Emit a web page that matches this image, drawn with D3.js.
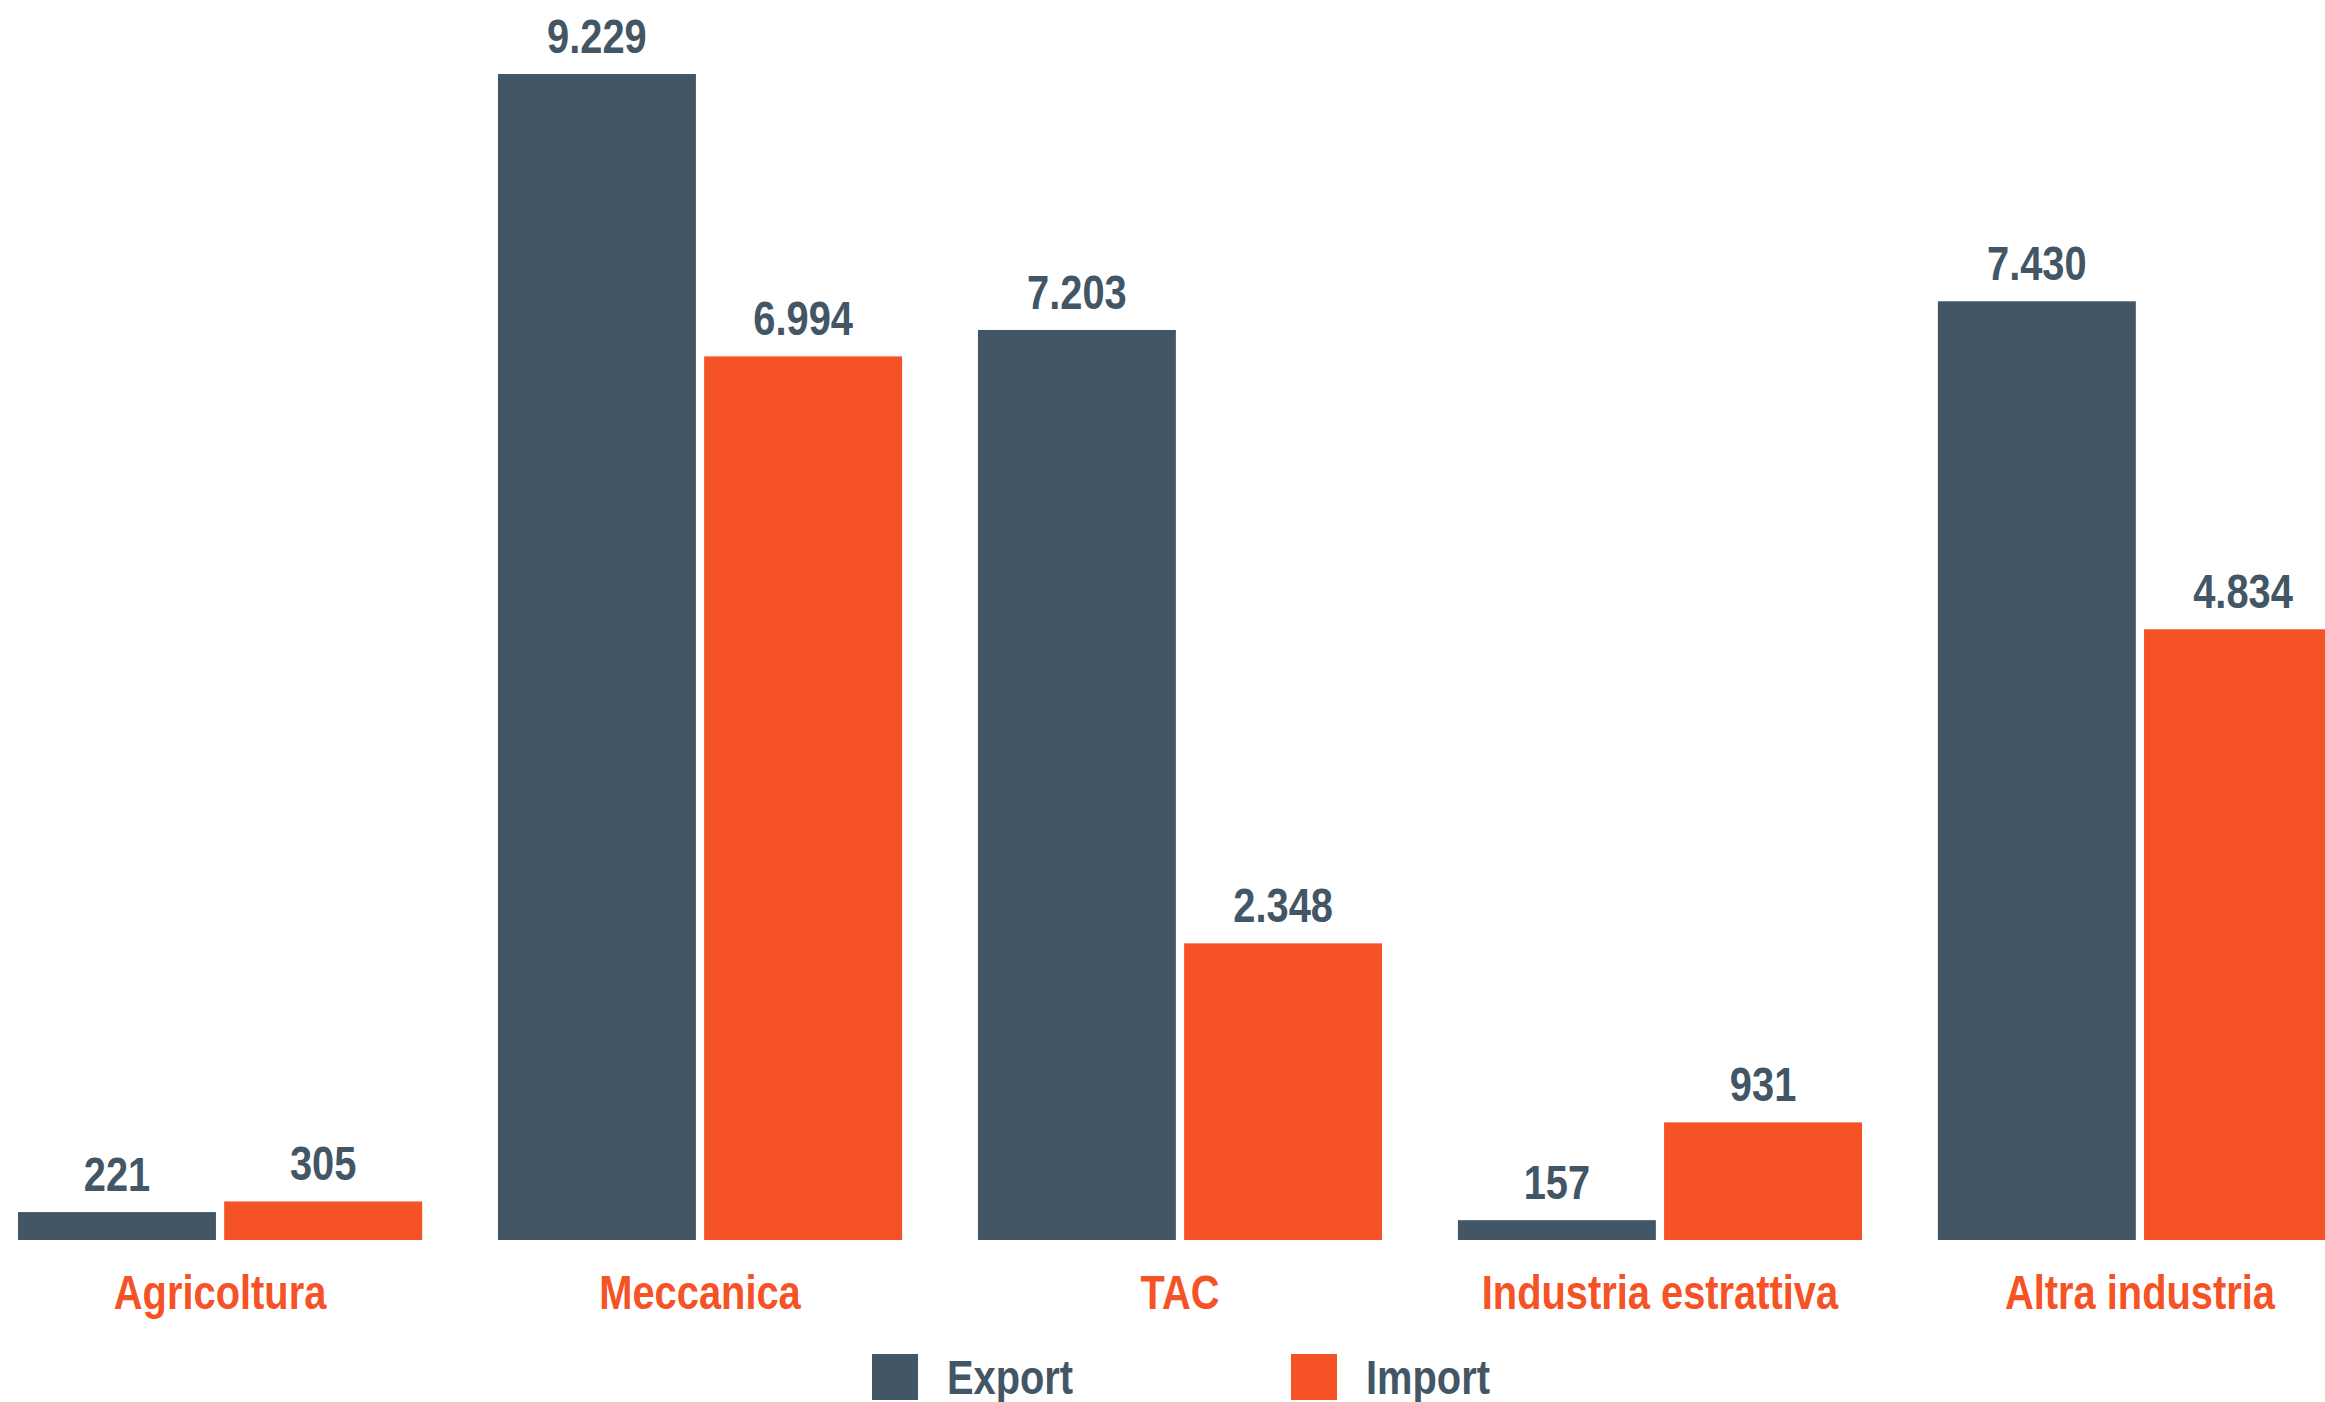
<!DOCTYPE html>
<html>
<head>
<meta charset="utf-8">
<script src="https://cdn.jsdelivr.net/npm/d3@7"></script>
<style>
  html, body { margin: 0; padding: 0; background: #ffffff; overflow: hidden; }
  svg { display: block; }
  text { font-family: "Liberation Sans", Arial, sans-serif; font-weight: bold; }
</style>
</head>
<body>
<svg id="chart" width="2325" height="1402"></svg>
<script>
const categories = ["Agricoltura", "Meccanica", "TAC", "Industria estrattiva", "Altra industria"];
const seriesNames = ["Export", "Import"];
const exportValues = [221, 9229, 7203, 157, 7430];
const importValues = [305, 6994, 2348, 931, 4834];
const seriesColors = ["#435665", "#f55225"];

const SX = 0.83; // horizontal condensing of the bold sans face
const svg = d3.select("#chart");

const data = categories.map((c, i) => ({
  category: c,
  values: [
    { series: "Export", value: exportValues[i] },
    { series: "Import", value: importValues[i] }
  ]
}));

const x0 = d3.scaleBand().domain(categories).range([18, 2342]).paddingInner(0.158).paddingOuter(0);
const x1 = d3.scaleBand().domain(seriesNames).range([0, x0.bandwidth()]).paddingInner(0.04).paddingOuter(0);
const y = d3.scaleLinear().domain([0, 9229]).range([1240, 74]);
const color = d3.scaleOrdinal().domain(seriesNames).range(seriesColors);

const fmt = d3.formatLocale({ decimal: ",", thousands: ".", grouping: [3], currency: ["€", ""] }).format(",d");

const groups = svg.append("g").selectAll("g")
  .data(data).join("g")
  .attr("transform", d => `translate(${x0(d.category)},0)`);

groups.selectAll("rect")
  .data(d => d.values).join("rect")
  .attr("x", d => x1(d.series))
  .attr("y", d => y(d.value))
  .attr("width", x1.bandwidth())
  .attr("height", d => y(0) - y(d.value))
  .attr("fill", d => color(d.series));

groups.selectAll("text.val")
  .data(d => d.values).join("text")
  .attr("class", "val")
  .attr("transform", d => `translate(${x1(d.series) + x1.bandwidth() / 2},${y(d.value) - 21}) scale(${SX},1)`)
  .attr("text-anchor", "middle")
  .attr("font-size", 48)
  .attr("fill", "#435665")
  .text(d => fmt(d.value));

// category axis labels
const xAxis = d3.axisBottom(x0).tickSize(0).tickPadding(0);
const axisG = svg.append("g").attr("transform", `translate(0,${y(0)})`).call(xAxis);
axisG.select(".domain").remove();
axisG.selectAll("text")
  .attr("dy", null)
  .attr("y", 0)
  .attr("transform", `translate(0,69) scale(${SX},1)`)
  .attr("font-size", 48)
  .attr("fill", "#f55225")
  .style("font-family", '"Liberation Sans", Arial, sans-serif')
  .style("font-weight", "bold");

// legend
const legendX = [872, 1291];
const legend = svg.append("g").selectAll("g")
  .data(seriesNames).join("g")
  .attr("transform", (d, i) => `translate(${legendX[i]},1354)`);
legend.append("rect")
  .attr("width", 46).attr("height", 46)
  .attr("fill", d => color(d));
legend.append("text")
  .attr("transform", `translate(75,40) scale(${SX},1)`)
  .attr("font-size", 48)
  .attr("fill", "#435665")
  .text(d => d);
</script>
</body>
</html>
